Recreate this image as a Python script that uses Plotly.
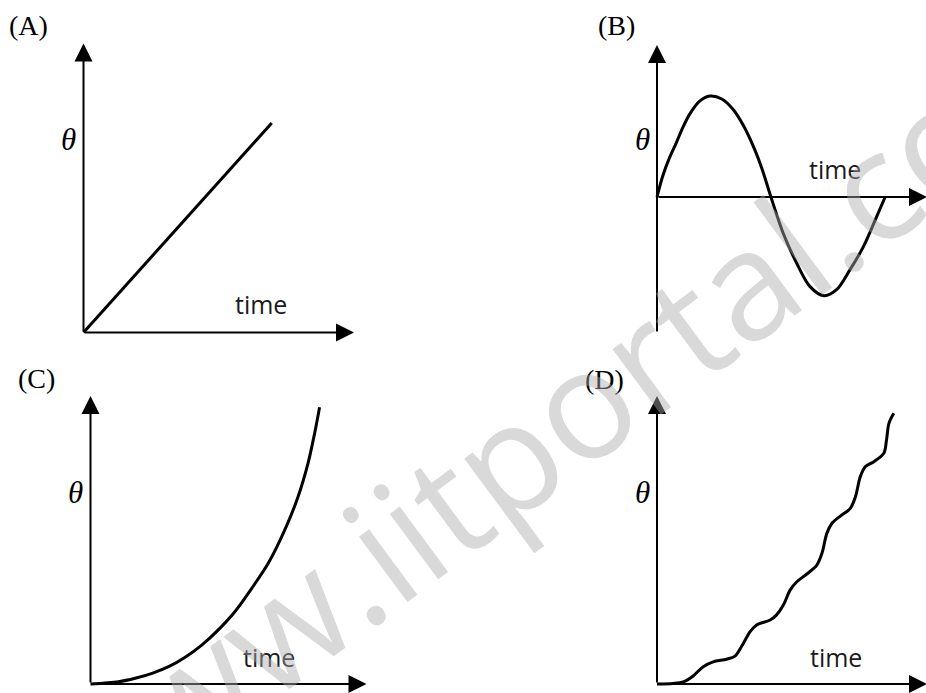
import plotly.graph_objects as go

W, H = 926, 693

# ---------------- data ----------------
# (A) uniform growth
a_time = [0, 6.96]
a_theta = [0, 7.25]

# (B) oscillation about zero
b_time = [0, 0.21, 0.46, 0.71, 0.95, 1.2, 1.57, 1.96, 2.4, 2.8, 3.2, 3.6,
          3.9, 4.22, 4.67, 5.17, 5.66, 6.18, 6.65, 7.15, 7.65, 8.14, 8.45]
b_theta = [0, 1.36, 2.57, 3.55, 4.54, 5.42, 6.29, 6.64, 6.45, 5.8, 4.7, 3.2,
           1.8, 0, -2.37, -4.34, -5.88, -6.49, -6.1, -4.78, -3.25, -1.27, 0]

# (C) accelerating growth
c_time = [0, 1.02, 1.62, 2.23, 2.83, 3.43, 4.03, 4.63, 5.23, 5.84, 6.44, 7.04,
          7.52, 7.88, 8.12, 8.3]
c_theta = [0, 0.08, 0.2, 0.37, 0.6, 0.93, 1.35, 1.88, 2.51, 3.32, 4.19, 5.35,
           6.5, 7.66, 8.7, 9.61]

# (D) wavy staircase growth
d_time = [0, 0.59, 0.97, 1.34, 1.71, 2.08, 2.58, 2.89, 3.13, 3.45, 3.69, 4.19,
          4.43, 4.68, 4.93, 5.18, 5.55, 5.92, 6.11, 6.29, 6.48, 6.79, 7.16, 7.35,
          7.53, 7.72, 8.03, 8.4, 8.5, 8.59, 8.77]
d_theta = [0, 0.02, 0.07, 0.28, 0.6, 0.77, 0.86, 0.97, 1.3, 1.82, 2.05, 2.22,
           2.4, 2.74, 3.26, 3.55, 3.82, 4.13, 4.54, 5.23, 5.58, 5.83, 6.1, 6.5,
           7.2, 7.55, 7.72, 8.01, 8.47, 9.05, 9.4]

panel_names = ["(A)", "(B)", "(C)", "(D)"]
y_label = "θ"
x_label = "time"
watermark = "www.iitportal.com"

series = [(a_time, a_theta), (b_time, b_theta), (c_time, c_theta), (d_time, d_theta)]

# axis extents in data units (arrow tips at 10)
x_tip = [10, 10, 10, 10]
y_tip = [10, 10, 10, 10]
y_low = [0, -8.95, 0, 0]

# ---------------- layout geometry ----------------
# origin pixel and pixels per unit for each panel
geom = [
    dict(origin=(83.5, 332.5), scale=(27.05, 28.9)),
    dict(origin=(657.0, 197.0), scale=(27.0, 15.2)),
    dict(origin=(90.5, 684.0), scale=(27.6, 28.8)),
    dict(origin=(657.0, 684.0), scale=(27.0, 28.8)),
]
# text positions in pixels: panel name, theta label, time label
name_pos = [(28, 26), (616, 26), (36, 378), (604, 379)]
theta_pos = [(68, 139), (642, 139), (75, 492), (642, 492)]
time_pos = [(261, 304), (835, 169), (269, 657), (836, 657)]


def paper(px, py):
    return px / W, 1 - py / H


fig = go.Figure()
annotations = []
layout_axes = {}

for i, (g, (xs, ys)) in enumerate(zip(geom, series)):
    n = i + 1
    sfx = "" if n == 1 else str(n)
    ox, oy = g["origin"]
    sx, sy = g["scale"]
    layout_axes[f"xaxis{sfx}"] = dict(domain=[0, 1], range=[-ox / sx, (W - ox) / sx],
                                      visible=False, fixedrange=True, anchor=f"y{sfx}")
    layout_axes[f"yaxis{sfx}"] = dict(domain=[0, 1], range=[(oy - H) / sy, oy / sy],
                                      visible=False, fixedrange=True, anchor=f"x{sfx}")
    fig.add_trace(go.Scatter(x=xs, y=ys, mode="lines",
                             line=dict(color="black", width=3, shape="spline", smoothing=0.9),
                             xaxis=f"x{sfx}", yaxis=f"y{sfx}", hoverinfo="skip",
                             showlegend=False))
    # axis arrows
    ref = dict(xref=f"x{sfx}", yref=f"y{sfx}", axref=f"x{sfx}", ayref=f"y{sfx}")
    annotations.append(dict(x=x_tip[i], y=0, ax=0, ay=0, text="", showarrow=True,
                            arrowhead=2, arrowsize=1.8, arrowwidth=2, arrowcolor="black", **ref))
    annotations.append(dict(x=0, y=y_tip[i], ax=0, ay=y_low[i], text="", showarrow=True,
                            arrowhead=2, arrowsize=1.8, arrowwidth=2, arrowcolor="black", **ref))
    # texts
    common = dict(xref="paper", yref="paper", showarrow=False,
                  xanchor="center", yanchor="middle")
    px, py = paper(*name_pos[i])
    annotations.append(dict(x=px, y=py, text=panel_names[i],
                            font=dict(family="Liberation Serif", size=28, color="black"), **common))
    px, py = paper(*theta_pos[i])
    annotations.append(dict(x=px, y=py, text=f"<i>{y_label}</i>",
                            font=dict(family="Liberation Serif", size=31, color="black"), **common))
    px, py = paper(*time_pos[i])
    annotations.append(dict(x=px, y=py, text=x_label,
                            font=dict(family="Open Sans", size=25, color="#1a1a1a"), **common))

# watermark on top
wx, wy = paper(565, 412)
annotations.append(dict(x=wx, y=wy, xref="paper", yref="paper", text=watermark,
                        showarrow=False, textangle=-36.5, xanchor="center", yanchor="middle",
                        font=dict(family="Open Sans", size=152, color="rgba(170,170,170,0.45)")))

fig.update_layout(width=W, height=H, margin=dict(l=0, r=0, t=0, b=0),
                  paper_bgcolor="white", plot_bgcolor="rgba(0,0,0,0)",
                  showlegend=False, annotations=annotations, **layout_axes)

fig.write_html("out.html", config={"displayModeBar": False},
               post_script="document.body.style.margin='0';")
